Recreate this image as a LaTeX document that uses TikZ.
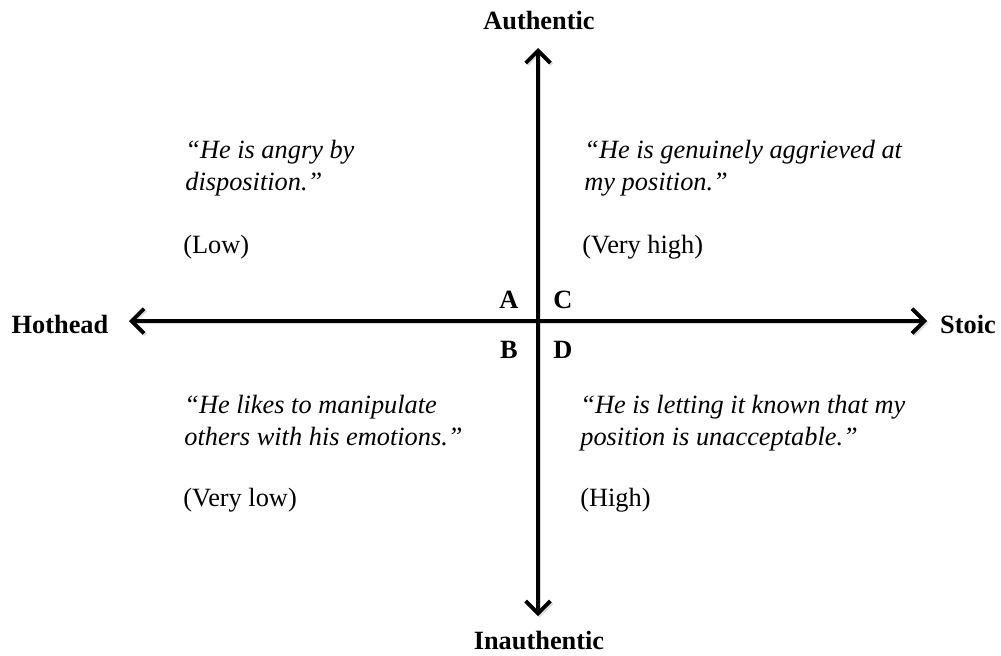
\documentclass[tikz,border=0pt]{standalone}
\usepackage{fontspec}
\setmainfont{Liberation Serif}
\usepackage{xcolor}
\usetikzlibrary{arrows.meta,positioning}
\definecolor{quadink}{HTML}{000000}
\definecolor{quadshadow}{HTML}{B8B8B8}
\tikzset{%
  quadaxis/.style={%
    {Straight Barb[length=7pt,width=14pt,line width=2.2pt]}-{Straight Barb[length=7pt,width=14pt,line width=2.2pt]},
    line width=2.2pt,
    draw=quadink
  },
  quadshade/.style={%
    quadaxis,
    draw=quadshadow,
    opacity=0.5
  },
  quadpole/.style={%
    font=\fontsize{15}{18}\selectfont\bfseries,
    anchor=base
  },
  quadletter/.style={%
    font=\fontsize{15}{18}\selectfont\bfseries,
    anchor=base
  },
  quadquote/.style={%
    font=\fontsize{15}{18}\selectfont\itshape,
    anchor=base west,
    align=left,
    inner sep=0pt
  },
  quadrating/.style={%
    font=\fontsize{15}{18}\selectfont,
    anchor=base west,
    inner sep=0pt
  }
}
\begin{document}
\begin{tikzpicture}[x=0.02cm,y=-0.02cm]
    \useasboundingbox (0,0) rectangle (1001,656);

    % axis ends
    \coordinate (top) at (538,48);
    \coordinate (bottom) at (538,616);
    \coordinate (left) at (129,321);
    \coordinate (right) at (927,321);

    \draw[quadshade] ([shift={(1.5,1.5)}]bottom) -- ([shift={(1.5,1.5)}]top);
    \draw[quadshade] ([shift={(1.5,1.5)}]left) -- ([shift={(1.5,1.5)}]right);
    \draw[quadaxis] (bottom) -- (top);
    \draw[quadaxis] (left) -- (right);

    % poles
    \node[quadpole] (authentic) at (539,29) {Authentic};
    \node[quadpole] (inauthentic) at (539,649) {Inauthentic};
    \node[quadpole] (hothead) at (60,333) {Hothead};
    \node[quadpole] (stoic) at (968,333) {Stoic};

    % quadrant letters
    \node[quadletter] (qa) at (509,308) {A};
    \node[quadletter] (qc) at (563,308) {C};
    \node[quadletter] (qb) at (509,358) {B};
    \node[quadletter] (qd) at (563,358) {D};

    % quadrant texts
    \node[quadquote] (texta) at (185,190) {``He is angry by\\disposition.''};
    \node[quadrating] (ratea) at (183,253) {(Low)};
    \node[quadquote] (textc) at (584,190) {``He is genuinely aggrieved at\\my position.''};
    \node[quadrating] (ratec) at (582,253) {(Very high)};
    \node[quadquote] (textb) at (184,445) {``He likes to manipulate\\others with his emotions.''};
    \node[quadrating] (rateb) at (183,506) {(Very low)};
    \node[quadquote] (textd) at (580,445) {``He is letting it known that my\\position is unacceptable.''};
    \node[quadrating] (rated) at (580,506) {(High)};
  \end{tikzpicture}
\end{document}
